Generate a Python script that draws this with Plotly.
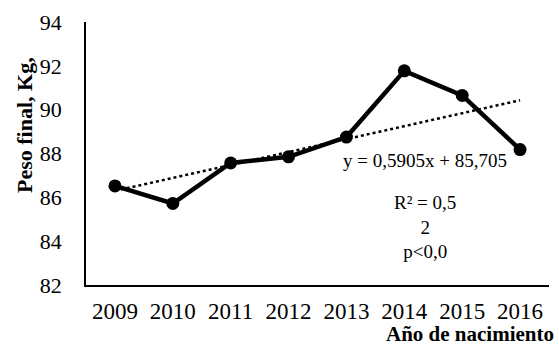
import plotly.graph_objects as go

# Final weight by birth year
years = ["2009", "2010", "2011", "2012", "2013", "2014", "2015", "2016"]
peso_final = [86.52, 85.72, 87.57, 87.85, 88.75, 91.77, 90.65, 88.18]

# Linear trend: y = 0.5905x + 85.705 (x = 1..n)
slope = 0.5905
intercept = 85.705
trend = [slope * (i + 1) + intercept for i in range(len(years))]

serif = "Liberation Serif, Times New Roman, serif"

# plot area in pixels
L, R, T, B = 86, 10, 22, 61
W, H = 559, 346
PW, PH = W - L - R, H - T - B


def px(x):
    return (x - L) / PW


def py(y):
    return (H - B - y) / PH


fig = go.Figure()
fig.add_trace(go.Scatter(
    x=years, y=trend, mode="lines",
    line=dict(color="black", width=2.5, dash="dot"),
    showlegend=False, hoverinfo="skip",
))
fig.add_trace(go.Scatter(
    x=years, y=peso_final, mode="lines+markers",
    line=dict(color="black", width=4.5),
    marker=dict(color="black", size=13),
    showlegend=False,
))

fig.update_layout(
    width=W, height=H,
    margin=dict(l=L, r=R, t=T, b=B),
    paper_bgcolor="white", plot_bgcolor="white",
    font=dict(family=serif, color="black"),
    xaxis=dict(
        type="category", range=[-0.5, 7.5],
        showline=True, linecolor="black", linewidth=1.5,
        showgrid=False, zeroline=False, ticks="",
        tickfont=dict(size=23, family=serif), ticklabelstandoff=5,
    ),
    yaxis=dict(
        range=[82, 94], tickvals=[82, 84, 86, 88, 90, 92, 94],
        showline=True, linecolor="black", linewidth=1.5,
        showgrid=False, zeroline=False, ticks="",
        tickfont=dict(size=22, family=serif), ticklabelstandoff=18,
    ),
    annotations=[
        dict(text="<b>Peso final, Kg,</b>", textangle=-90,
             xref="paper", yref="paper", x=px(24), y=py(125),
             xanchor="center", yanchor="middle", showarrow=False,
             font=dict(size=22, family=serif)),
        dict(text="<b>Año de nacimiento</b>",
             xref="paper", yref="paper", x=px(556), y=py(334),
             xanchor="right", yanchor="middle", showarrow=False,
             font=dict(size=21, family=serif)),
        dict(text="y = 0,5905x + 85,705",
             xref="paper", yref="paper", x=px(425), y=py(160),
             xanchor="center", yanchor="middle", showarrow=False,
             font=dict(size=19, family=serif)),
        dict(text="R² = 0,5<br>2<br>p<0,0",
             xref="paper", yref="paper", x=px(425), y=py(227),
             xanchor="center", yanchor="middle", showarrow=False, align="center",
             font=dict(size=19, family=serif)),
    ],
)

fig.write_html("out.html")
